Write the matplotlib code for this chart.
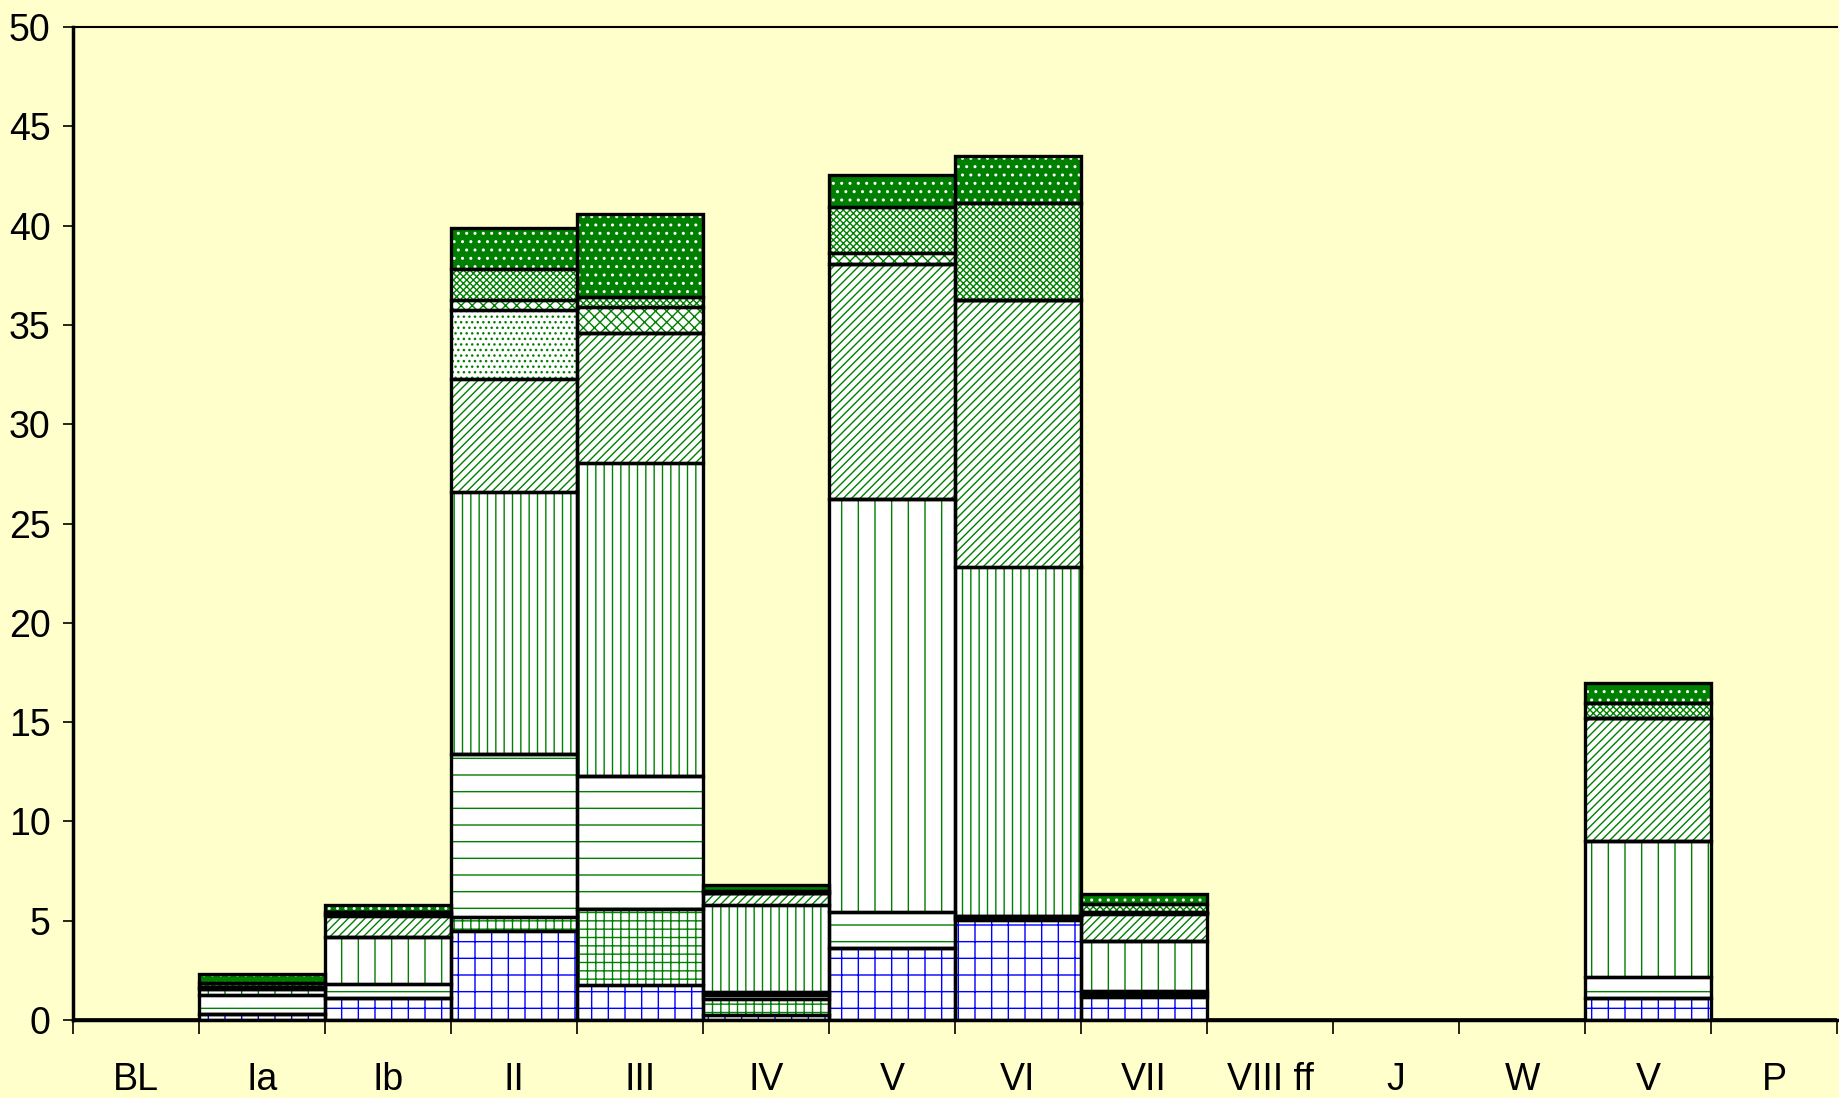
import matplotlib
matplotlib.use("Agg")
import matplotlib.pyplot as plt
import numpy as np

plt.rcParams['font.family'] = ['Liberation Sans', 'DejaVu Sans']
plt.rcParams['hatch.linewidth'] = 1.0

categories = ['BL', 'Ia', 'Ib', 'II', 'III', 'IV', 'V', 'VI', 'VII', 'VIII ff', 'J', 'W', 'V', 'P']

# layers, bottom to top
blue_brick   = [0, 0.30, 1.10, 4.50, 1.76, 0.25, 3.61, 5.04, 1.17, 0, 0, 0, 1.09, 0]
green_grid   = [0, 0,    0,    0.70, 3.83, 0.80, 0,    0.10, 0.15, 0, 0, 0, 0,    0]
dash_rows    = [0, 0.95, 0.70, 8.18, 6.71, 0.20, 1.84, 0.10, 0.14, 0, 0, 0, 1.09, 0]
vdash_sparse = [0, 0.30, 2.40, 0,    0,    0.15, 20.78, 0,   2.52, 0, 0, 0, 6.85, 0]
vdash_dense  = [0, 0,    0,    13.22, 15.76, 4.40, 0,  17.58, 0,   0, 0, 0, 0,    0]
diag         = [0, 0.10, 1.04, 5.66, 6.54, 0.58, 11.84, 13.43, 1.34, 0, 0, 0, 6.16, 0]
dots         = [0, 0,    0.10, 3.49, 0,    0,    0,    0,    0.07, 0, 0, 0, 0,    0]
check_a      = [0, 0,    0.11, 0.50, 1.30, 0,    0.53, 0,    0.06, 0, 0, 0, 0,    0]
zigzag       = [0, 0.20, 0,    1.59, 0.50, 0.14, 2.35, 4.90, 0.38, 0, 0, 0, 0.76, 0]
check_b      = [0, 0.45, 0.34, 2.02, 4.20, 0.30, 1.60, 2.35, 0.51, 0, 0, 0, 1.04, 0]

bg = '#FFFFCC'
green = '#008000'
layers = [
    (blue_brick,   'white', '#0000FF', '+'),
    (green_grid,   'white', green,     '++'),
    (dash_rows,    'white', green,     '-'),
    (vdash_sparse, 'white', green,     '|'),
    (vdash_dense,  'white', green,     '||'),
    (diag,         'white', green,     '////'),
    (dots,         'white', green,     '...'),
    (check_a,      'white', green,     'xxx'),
    (zigzag,       'white', green,     'xxxxx'),
    (check_b,      green,   'white',   '..'),
]

fig = plt.figure(figsize=(18.39, 10.98), dpi=100, facecolor=bg)
ax = fig.add_axes([0.0395, 0.071, 0.9595, 0.9044])
ax.set_facecolor(bg)

x = np.arange(len(categories))
bottom = np.zeros(len(categories))
for vals, fc, hc, hatch in layers:
    vals = np.array(vals, dtype=float)
    ax.bar(x, vals, width=1.0, bottom=bottom, color=fc, edgecolor=hc,
           hatch=hatch, linewidth=0, zorder=2)
    ax.bar(x, vals, width=1.0, bottom=bottom, fill=False, edgecolor='black',
           linewidth=2.4, zorder=3)
    bottom += vals

ax.set_xlim(-0.5, len(categories) - 0.5)
ax.set_ylim(0, 50)
ax.set_yticks(np.arange(0, 51, 5))
ax.set_xticks(x)
ax.set_xticklabels(categories)
ax.set_xticks(np.arange(-0.5, len(categories), 1.0), minor=True)
ax.tick_params(axis='x', which='major', length=0, pad=30, labelsize=27)
ax.tick_params(axis='x', which='minor', length=10, width=1.2, color='black')
ax.tick_params(axis='y', length=7, width=1.2, labelsize=27, pad=9)

for s in ['left', 'bottom']:
    ax.spines[s].set_linewidth(2.5)
ax.spines['top'].set_linewidth(1.5)
ax.spines['right'].set_visible(False)

fig.savefig('out.png', dpi=100, facecolor=bg)
